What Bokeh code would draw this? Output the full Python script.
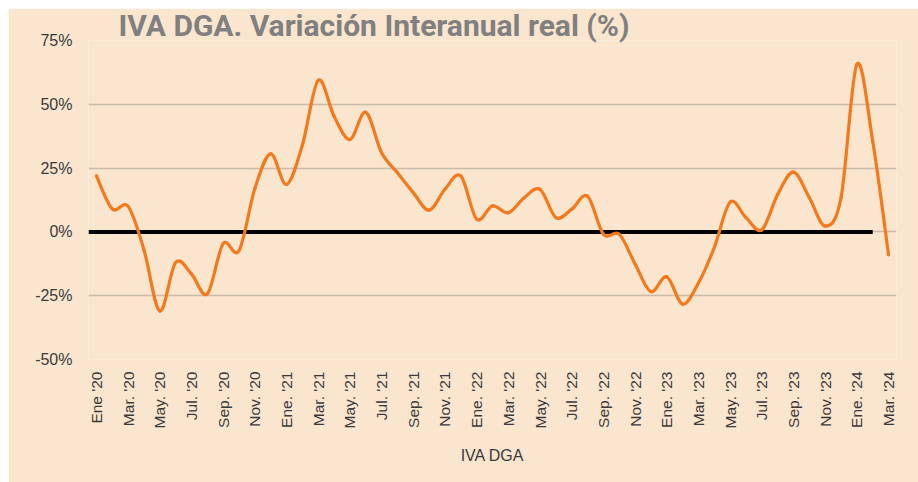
from bokeh.plotting import figure
from bokeh.models import FixedTicker, Range1d
from bokeh.embed import file_html
from bokeh.resources import INLINE

# ---- data ----
month_names = ["Ene", "Feb", "Mar", "Abr", "May", "Jun", "Jul", "Ago", "Sep", "Oct", "Nov", "Dic"]
years = ["20", "21", "22", "23", "24"]
months = []
for yy in years:
    for m in month_names:
        months.append(f"{m}. '{yy}")
months = months[:51]          # Ene '20 ... Mar '24
months[0] = "Ene '20"

iva_dga = [22, 9, 10, -7, -31, -12, -16.5, -24.3, -4.6, -7.4,
           17, 30.6, 18.6, 34, 59.4, 45.3, 36.2, 46.9, 31, 23.2,
           15.4, 8.5, 16.7, 21.9, 5, 10.2, 7.5, 13.4, 16.7, 5.6,
           8.9, 14, -0.9, -0.9, -12.6, -23.4, -17.6, -28.3, -20, -6.1,
           11.7, 5.6, 0.8, 14.7, 23.4, 13.4, 2.3, 13.4, 65.7, 35.5, -9]

y_ticks = [-50, -25, 0, 25, 50, 75]
y_tick_labels = ["-50%", "-25%", "0%", "25%", "50%", "75%"]

title_text = "IVA DGA. Variación Interanual real (%)"
axis_title = "IVA DGA"

# ---- styling ----
BG = "#FAE5CE"
GRID = "#C9BBA9"
ORANGE = "#F5781A"
TXT = "#3A3A3A"

n = len(iva_dga)
xs = list(range(n))

p = figure(width=910, height=474, output_backend="svg", toolbar_location=None,
           x_range=Range1d(-0.5, n - 0.5), y_range=Range1d(-50, 75),
           min_border_left=80, min_border_right=22, min_border_top=32, min_border_bottom=123)
p.margin = (8, 0, 0, 8)
p.background_fill_color = BG
p.border_fill_color = BG
p.outline_line_color = None

# title
p.title.text = title_text
p.title.align = "left"
p.title.offset = 30
p.title.standoff = -5
p.title.text_font = "Roboto"
p.title.text_font_style = "bold"
p.title.text_font_size = "30px"
p.title.text_color = "#808080"

# grid
p.xgrid.grid_line_color = None
p.ygrid.grid_line_color = GRID
p.ygrid.grid_line_width = 1.5

# y axis
p.yaxis.ticker = FixedTicker(ticks=y_ticks)
p.yaxis.major_label_overrides = {t: l for t, l in zip(y_ticks, y_tick_labels)}
p.yaxis.axis_line_color = None
p.yaxis.major_tick_line_color = None
p.yaxis.minor_tick_line_color = None
p.yaxis.major_label_standoff = 10
p.yaxis.major_label_text_font = "Liberation Sans"
p.yaxis.major_label_text_font_size = "16px"
p.yaxis.major_label_text_color = TXT

# x axis
ticks_x = xs[::2]
p.xaxis.ticker = FixedTicker(ticks=ticks_x)
p.xaxis.major_label_overrides = {i: months[i] for i in ticks_x}
p.xaxis.major_label_orientation = 3.14159265 / 2
p.xaxis.axis_line_color = None
p.xaxis.major_tick_line_color = None
p.xaxis.minor_tick_line_color = None
p.xaxis.major_label_standoff = 6
p.xaxis.major_label_text_font = "Liberation Sans"
p.xaxis.major_label_text_font_size = "15.5px"
p.xaxis.major_label_text_color = TXT
p.xaxis.axis_label = axis_title
p.xaxis.axis_label_text_font = "Liberation Sans"
p.xaxis.axis_label_text_font_size = "16px"
p.xaxis.axis_label_text_font_style = "normal"
p.xaxis.axis_label_text_color = TXT
p.xaxis.axis_label_standoff = 16

# zero reference line (ends at Feb '24)
p.segment(x0=[-0.5], y0=[0], x1=[xs[-2]], y1=[0], line_color="black", line_width=4)

# smoothed line (cubic segments, as in the spreadsheet's smoothed line)
x0s, y0s, x1s, y1s, cx0s, cy0s, cx1s, cy1s = [], [], [], [], [], [], [], []
for i in range(n - 1):
    pm = i - 1 if i > 0 else i
    pp = i + 2 if i + 2 < n else i + 1
    x0s.append(xs[i]); y0s.append(iva_dga[i])
    x1s.append(xs[i + 1]); y1s.append(iva_dga[i + 1])
    cx0s.append(xs[i] + (xs[i + 1] - xs[pm]) / 6)
    cy0s.append(iva_dga[i] + (iva_dga[i + 1] - iva_dga[pm]) / 6)
    cx1s.append(xs[i + 1] - (xs[pp] - xs[i]) / 6)
    cy1s.append(iva_dga[i + 1] - (iva_dga[pp] - iva_dga[i]) / 6)
p.bezier(x0=x0s, y0=y0s, x1=x1s, y1=y1s, cx0=cx0s, cy0=cy0s, cx1=cx1s, cy1=cy1s,
         line_color=ORANGE, line_width=3.2, line_cap="round")

open("out.html", "w").write(file_html(p, INLINE))
